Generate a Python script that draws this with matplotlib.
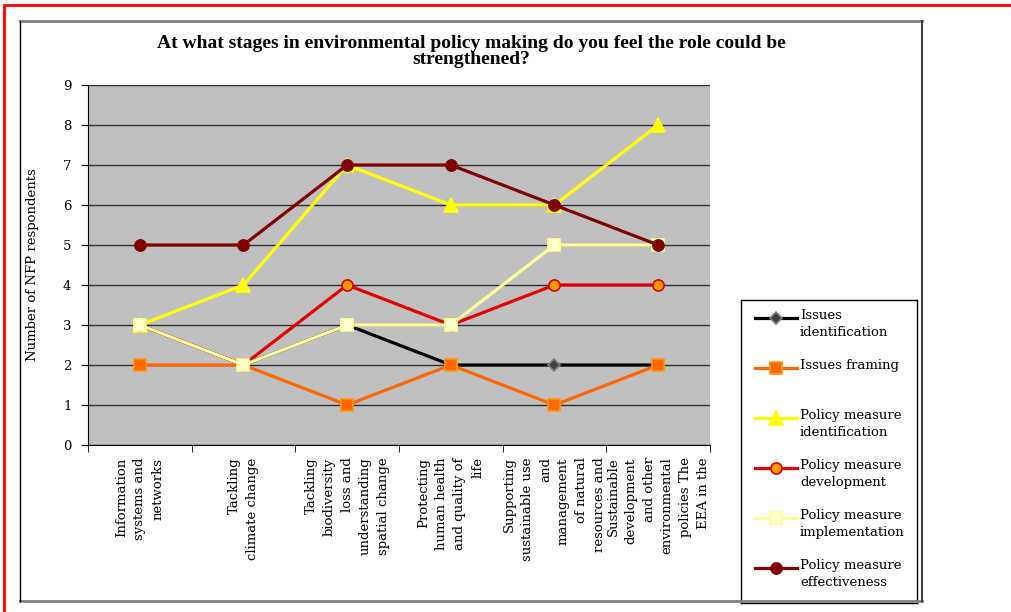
import matplotlib
matplotlib.use("Agg")
import matplotlib.pyplot as plt
from matplotlib.lines import Line2D

plt.rcParams['font.family'] = ['DejaVu Serif']

categories = ["Information\nsystems and\nnetworks",
              "Tackling\nclimate change",
              "Tackling\nbiodiversity\nloss and\nunderstanding\nspatial change",
              "Protecting\nhuman health\nand quality of\nlife",
              "Supporting\nsustainable use\nand\nmanagement\nof natural\nresources and",
              "Sustainable\ndevelopment\nand other\nenvironmental\npolicies The\nEEA in the"]

issues_identification = [3, 2, 3, 2, 2, 2]
issues_framing = [2, 2, 1, 2, 1, 2]
pm_identification = [3, 4, 7, 6, 6, 8]
pm_development = [3, 2, 4, 3, 4, 4]
pm_implementation = [3, 2, 3, 3, 5, 5]
pm_effectiveness = [5, 5, 7, 7, 6, 5]

series_names = ["Issues\nidentification", "Issues framing",
                "Policy measure\nidentification", "Policy measure\ndevelopment",
                "Policy measure\nimplementation", "Policy measure\neffectiveness"]
series_values = [issues_identification, issues_framing, pm_identification,
                 pm_development, pm_implementation, pm_effectiveness]

# line colour, marker, marker face, marker edge, marker size
styles = [("#000000", "D", "#404040", "#808080", 6),
          ("#FF6600", "s", "#FF6600", "#FF9900", 9),
          ("#FFFF00", "^", "#FFFF00", "#FFFF00", 10),
          ("#E00000", "o", "#FF9900", "#E00000", 8),
          ("#FFFF99", "s", "#FFFFCC", "#FFFF99", 9),
          ("#800000", "o", "#800000", "#800000", 8)]

W, H = 1012, 612
fig = plt.figure(figsize=(W / 100, H / 100), dpi=100)

def fx(px):
    return px / W

def fy(py):
    return 1 - py / H

# outer red frame and inner chart frame
fig.add_artist(plt.Rectangle((fx(4), fy(640)), fx(1040), 640 / H - 5 / H,
                             transform=fig.transFigure, fill=False,
                             edgecolor="#FF0000", lw=2, clip_on=False))
fig.add_artist(Line2D([fx(20), fx(922)], [fy(21), fy(21)], color="#808080", lw=2))
fig.add_artist(Line2D([fx(20), fx(922)], [fy(601), fy(601)], color="#808080", lw=2))
fig.add_artist(Line2D([fx(20), fx(20)], [fy(21), fy(601)], color="#000000", lw=1))
fig.add_artist(Line2D([fx(922), fx(922)], [fy(21), fy(601)], color="#404040", lw=1.5))

ax = fig.add_axes([fx(88), fy(445), fx(710) - fx(88), fy(85) - fy(445)])
ax.set_facecolor("#C0C0C0")
x = list(range(len(categories)))
for vals, (lc, mk, mf, me, ms) in zip(series_values, styles):
    ax.plot(x, vals, color=lc, lw=2.3, marker=mk, markerfacecolor=mf,
            markeredgecolor=me, markersize=ms, markeredgewidth=1.2, zorder=3)

ax.set_xlim(-0.5, len(categories) - 0.5)
ax.set_ylim(0, 9)
ax.set_yticks(range(10))
ax.yaxis.grid(True, color="#303030", lw=1)
ax.set_axisbelow(True)
ax.set_xticks(x)
ax.set_xticklabels(categories, rotation=90, va="top", ha="center",
                   multialignment="right", linespacing=1.5, fontsize=9.5)
ax.set_xticks([i - 0.5 for i in range(len(categories) + 1)], minor=True)
ax.tick_params(axis="x", which="major", length=0, pad=9)
ax.tick_params(axis="x", which="minor", length=5, direction="out")
ax.tick_params(axis="y", length=5, direction="out", labelsize=9.5, pad=7)
for s in ["top", "right"]:
    ax.spines[s].set_visible(False)
ax.spines["left"].set_color("#000000")
ax.spines["bottom"].set_color("#000000")
ax.set_ylabel("Number of NFP respondents", fontsize=9.5, labelpad=17)

title_lines = ["At what stages in environmental policy making do you feel the role could be",
               "strengthened?"]
for k, line in enumerate(title_lines):
    fig.text(fx(471), fy(43 + 17 * k), line, ha="center", va="center",
             fontsize=14, fontweight="bold", family="Liberation Serif")

# legend box
lax = fig.add_axes([fx(741), fy(603), fx(917) - fx(741), fy(300) - fy(603)])
lax.set_xlim(741, 917)
lax.set_ylim(603, 300)
lax.set_xticks([])
lax.set_yticks([])
for s in lax.spines.values():
    s.set_color("#000000")
    s.set_linewidth(1)
for i, (name, (lc, mk, mf, me, ms)) in enumerate(zip(series_names, styles)):
    yy = 318 + 50 * i
    lax.plot([755, 797], [yy, yy], color=lc, lw=2.3)
    lax.plot([776], [yy], marker=mk, markerfacecolor=mf, markeredgecolor=me,
             markersize=ms, markeredgewidth=1.2, color=lc)
    lax.text(800, yy - 9, name, ha="left", va="top", fontsize=9.5, linespacing=1.4)

fig.savefig("out.png", dpi=100)
